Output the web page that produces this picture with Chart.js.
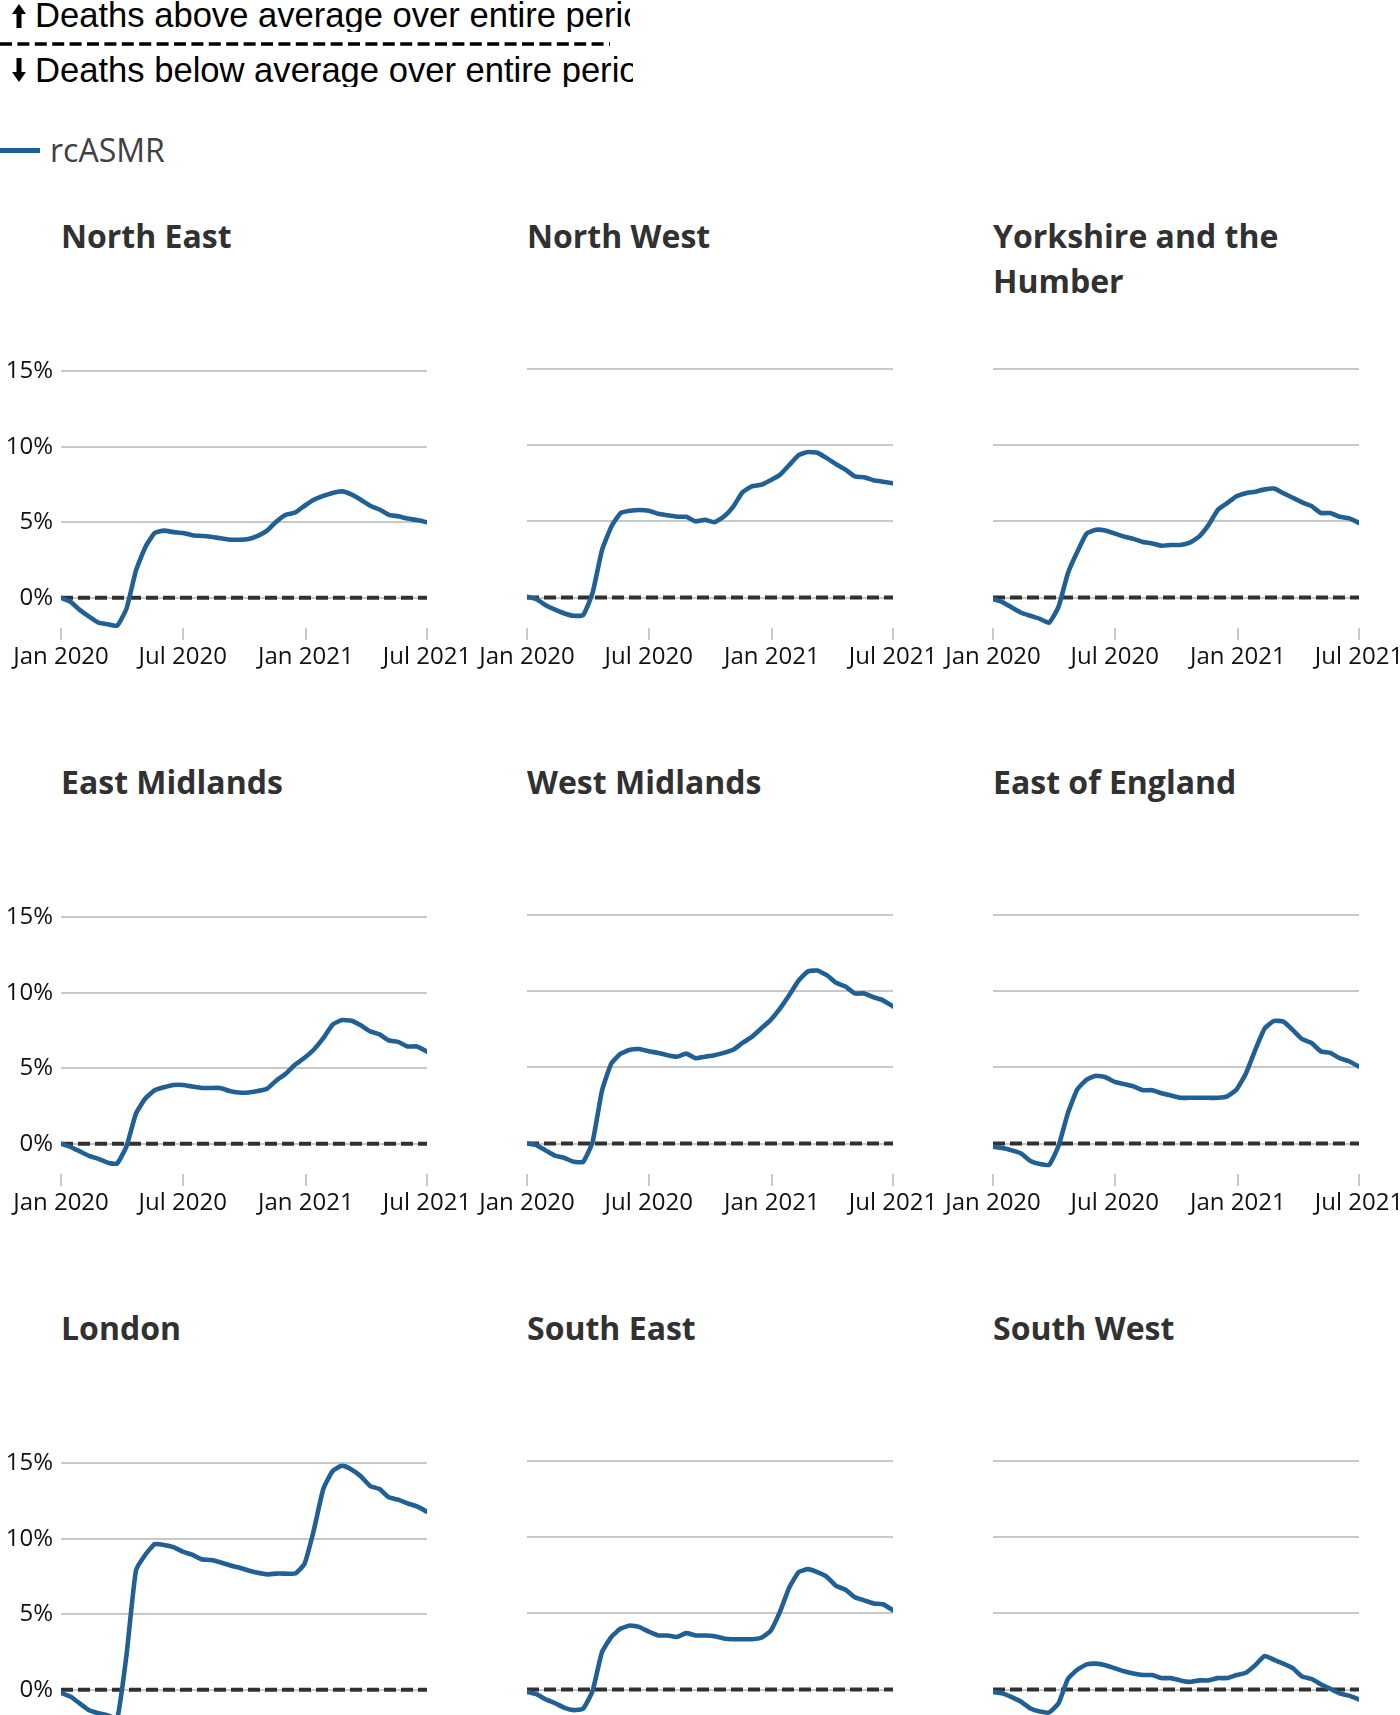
<!DOCTYPE html>
<html>
<head>
<meta charset="utf-8">
<script src="https://cdn.jsdelivr.net/npm/chart.js@4.4.0/dist/chart.umd.min.js"></script>
<style>
html, body { margin:0; padding:0; background:#fff; overflow:hidden; width:1400px; height:1715px; }
.key { position:absolute; left:35px; width:595px; overflow:hidden; white-space:nowrap;
       font-family:"Liberation Sans", Arial, sans-serif; font-size:34.6px; line-height:34px; color:#000; }
.title { position:absolute; width:360px; font-family:"Open Sans", sans-serif; font-weight:bold;
         font-size:32px; line-height:45px; color:#323132; }
canvas { position:absolute; }
</style>
</head>
<body>

<svg style="position:absolute;left:12px;top:4px" width="16" height="24">
  <polygon points="7,0 14,10 9.5,10 9.5,24 4.5,24 4.5,10 0,10" fill="#000"/>
</svg>
<div class="key" style="top:-2px">Deaths above average over entire period</div>
<svg style="position:absolute;left:0;top:40px" width="612" height="8">
  <line x1="0" y1="4" x2="610" y2="4" stroke="#000" stroke-width="3.5" stroke-dasharray="12 5.4"/>
</svg>
<svg style="position:absolute;left:12px;top:58px" width="16" height="24">
  <polygon points="4.5,0 9.5,0 9.5,14 14,14 7,24 0,14 4.5,14" fill="#000"/>
</svg>
<div class="key" style="top:53px;width:598px">Deaths below average over entire period</div>

<div style="position:absolute;left:0;top:148px;width:40px;height:5px;background:#206095"></div>
<div style="position:absolute;left:50px;top:130px;font-family:'Open Sans',sans-serif;font-size:32px;line-height:40px;color:#414042">rcASMR</div>

<div id="panels"></div>

<script>
// days since 1 Jan 2020 for each (fortnightly) reading
var days = [0,14,28,42,56,70,84,98,112,126,140,154,168,182,196,210,224,238,252,266,280,294,308,322,336,350,364,378,392,406,420,434,448,462,476,490,504,518,532,547];

var xTickDays = [0,182,366,547];
var xTickLabels = ["Jan 2020","Jul 2020","Jan 2021","Jul 2021"];
var yTicks = [0,5,10,15];

var regions = ["North East","North West","Yorkshire and the Humber","East Midlands","West Midlands","East of England","London","South East","South West"];

var northEast = [0,-0.26,-0.8,-1.25,-1.65,-1.75,-1.85,-0.7,1.8,3.35,4.3,4.45,4.35,4.3,4.15,4.1,4.05,3.95,3.85,3.85,3.9,4.1,4.45,5.05,5.5,5.65,6.1,6.5,6.75,6.95,7.05,6.85,6.5,6.1,5.85,5.5,5.4,5.25,5.15,5.0];
var northWest = [0.05,-0.1,-0.5,-0.8,-1.05,-1.2,-1.15,0.3,3.1,4.65,5.55,5.7,5.75,5.7,5.5,5.4,5.3,5.3,5.0,5.1,4.95,5.3,5.95,6.9,7.3,7.4,7.7,8.05,8.7,9.35,9.55,9.5,9.15,8.75,8.4,7.95,7.9,7.7,7.6,7.5];
var yorkshire = [-0.1,-0.3,-0.65,-1.0,-1.2,-1.4,-1.65,-0.6,1.6,3.0,4.2,4.45,4.4,4.2,4.0,3.85,3.65,3.55,3.4,3.45,3.45,3.6,4.0,4.75,5.75,6.2,6.65,6.85,6.95,7.1,7.15,6.85,6.55,6.25,6.0,5.55,5.55,5.3,5.2,4.9];
var eastMidlands = [0,-0.2,-0.5,-0.8,-1.0,-1.25,-1.3,-0.15,2.0,3.0,3.55,3.75,3.9,3.9,3.8,3.7,3.7,3.7,3.5,3.4,3.4,3.5,3.65,4.2,4.65,5.25,5.7,6.25,7.0,7.9,8.2,8.15,7.85,7.45,7.25,6.85,6.75,6.45,6.45,6.1];
var westMidlands = [0,-0.1,-0.45,-0.8,-0.95,-1.2,-1.2,0.1,3.45,5.25,5.9,6.15,6.2,6.05,5.95,5.8,5.7,5.9,5.6,5.7,5.8,5.95,6.15,6.6,7.0,7.55,8.1,8.85,9.75,10.7,11.3,11.35,11.05,10.55,10.3,9.85,9.85,9.6,9.4,9.0];
var eastOfEngland = [-0.2,-0.3,-0.45,-0.65,-1.15,-1.35,-1.4,-0.15,2.0,3.55,4.2,4.45,4.35,4.05,3.9,3.75,3.5,3.5,3.3,3.15,3.0,3.0,3.0,3.0,3.0,3.1,3.55,4.6,6.15,7.55,8.05,8.0,7.45,6.85,6.6,6.05,5.95,5.6,5.4,5.05];
var london = [-0.2,-0.45,-0.9,-1.35,-1.55,-1.7,-1.9,2.35,7.9,8.95,9.65,9.6,9.45,9.15,8.95,8.65,8.6,8.45,8.25,8.1,7.9,7.75,7.65,7.7,7.7,7.7,8.35,10.6,13.3,14.5,14.85,14.6,14.15,13.5,13.3,12.75,12.6,12.35,12.15,11.8];
var southEast = [-0.15,-0.3,-0.65,-0.9,-1.2,-1.35,-1.25,-0.1,2.45,3.45,4.0,4.2,4.1,3.8,3.55,3.55,3.45,3.7,3.55,3.55,3.5,3.35,3.3,3.3,3.3,3.4,3.85,5.1,6.7,7.7,7.9,7.7,7.4,6.8,6.55,6.05,5.85,5.65,5.6,5.2];
var southWest = [-0.15,-0.25,-0.5,-0.8,-1.25,-1.45,-1.5,-0.9,0.7,1.3,1.65,1.7,1.6,1.4,1.2,1.05,0.95,0.95,0.75,0.75,0.6,0.5,0.6,0.6,0.75,0.75,0.95,1.1,1.6,2.2,1.95,1.7,1.4,0.85,0.7,0.35,0.05,-0.25,-0.4,-0.65];

var series = [northEast,northWest,yorkshire,eastMidlands,westMidlands,eastOfEngland,london,southEast,southWest];

var colLeft = [0,466,932];
var rowPlotTop = [369,915,1461];
var rowTitleTop = [213,759,1305];
var panels = document.getElementById("panels");

for (var i = 0; i < regions.length; i++) {
    var col = i % 3, row = Math.floor(i / 3);

    var t = document.createElement("div");
    t.className = "title";
    t.style.left = (colLeft[col] + 61) + "px";
    t.style.top = rowTitleTop[row] + "px";
    t.textContent = regions[i];
    panels.appendChild(t);

    var canvas = document.createElement("canvas");
    canvas.width = 506;
    canvas.height = 339;
    canvas.style.left = colLeft[col] + "px";
    canvas.style.top = (rowPlotTop[row] - 20) + "px";
    panels.appendChild(canvas);

    var pts = [];
    for (var j = 0; j < days.length; j++) {
        pts.push({x: days[j], y: series[i][j]});
    }

    new Chart(canvas.getContext("2d"), {
        type: "line",
        data: {
            datasets: [{
                data: pts,
                borderColor: "#206095",
                borderWidth: 4.6,
                pointRadius: 0,
                tension: 0.15,
                borderJoinStyle: "round",
                borderCapStyle: "round"
            }, {
                data: [{x: 0, y: 0}, {x: 547, y: 0}],
                borderColor: "#323132",
                borderWidth: 4,
                borderDash: [12, 5],
                pointRadius: 0
            }]
        },
        options: {
            animation: false,
            responsive: false,
            devicePixelRatio: 1,
            layout: {padding: {top: 20, right: 79, left: 0, bottom: 0}},
            plugins: {legend: {display: false}, tooltip: {enabled: false}},
            scales: {
                x: {
                    type: "linear", min: 0, max: 547,
                    afterBuildTicks: function(s) { s.ticks = xTickDays.map(function(v) { return {value: v}; }); },
                    afterFit: function(s) { s.height = 60; },
                    ticks: {
                        autoSkip: false, maxRotation: 0, padding: 3, color: "#111",
                        font: {family: "Open Sans", size: 24},
                        callback: function(v) { return xTickLabels[xTickDays.indexOf(v)]; }
                    },
                    grid: {drawOnChartArea: false, drawTicks: true, tickLength: 12, color: "#c8c8c8", lineWidth: 2},
                    border: {display: false}
                },
                y: {
                    min: -2, max: 15,
                    afterBuildTicks: function(s) { s.ticks = yTicks.map(function(v) { return {value: v}; }); },
                    afterFit: function(s) { s.width = 61; },
                    ticks: {
                        display: col === 0, padding: 8, color: "#111",
                        font: {family: "Open Sans", size: 24},
                        callback: function(v) { return v + "%"; }
                    },
                    grid: {color: "#c8c8c8", lineWidth: 2, drawTicks: false},
                    border: {display: false}
                }
            }
        }
    });
}
</script>
</body>
</html>
